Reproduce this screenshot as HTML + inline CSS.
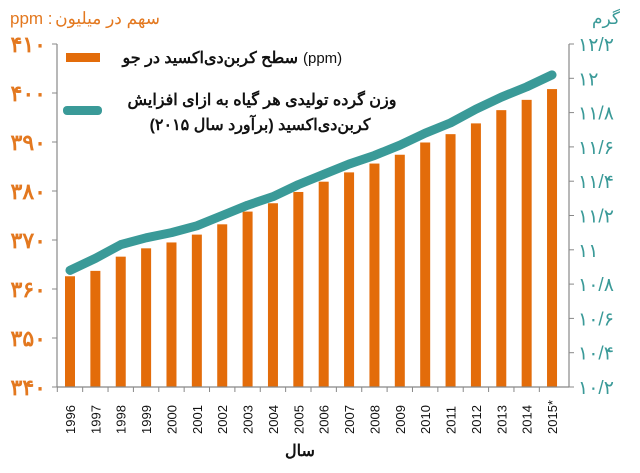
<!DOCTYPE html>
<html><head><meta charset="utf-8"><style>
body{margin:0;background:#fff;}
svg{display:block;font-family:"Liberation Sans","Noto Sans CJK SC",sans-serif;}
</style></head><body>
<svg id="chart" width="640" height="473" viewBox="0 0 640 473">
<g id="bars"></g>
<g id="axes"></g>
<path id="line" fill="none" stroke="#3a9a98" stroke-width="9" stroke-linecap="round" stroke-linejoin="round"/>
<text x="10" y="24" font-size="17" fill="#e3781f">ppm :</text>
<text x="160" y="24" font-size="17" fill="#e3781f" text-anchor="end">سهم در میلیون</text>
<text x="620" y="24" font-size="17" fill="#3a9a98" text-anchor="end">گرم</text>
<rect x="66" y="53" width="34" height="9" fill="#e36c0a"/>
<text x="298" y="63" font-size="16" font-weight="bold" fill="#111" text-anchor="end">سطح کربن‌دی‌اکسید در جو</text>
<text x="303" y="63" font-size="15" fill="#111">(ppm)</text>
<rect x="63" y="106" width="39" height="9" rx="4" fill="#3a9a98"/>
<text x="262" y="105" font-size="16" font-weight="bold" fill="#111" text-anchor="middle" direction="rtl">وزن گرده تولیدی هر گیاه به ازای افزایش</text>
<text x="260" y="130" font-size="16" font-weight="bold" fill="#111" text-anchor="middle" direction="rtl">کربن‌دی‌اکسید (برآورد سال ۲۰۱۵)</text>
<text x="300" y="456" font-size="16" font-weight="bold" fill="#111" text-anchor="middle">سال</text>
</svg>
<script>
const years=["1996","1997","1998","1999","2000","2001","2002","2003","2004","2005","2006","2007","2008","2009","2010","2011","2012","2013","2014","2015*"];
const co2=[362.6,363.7,366.6,368.3,369.5,371.1,373.2,375.8,377.5,379.8,381.9,383.8,385.6,387.4,389.9,391.6,393.8,396.5,398.6,400.8];
const pollen=[10.88,10.95,11.03,11.07,11.10,11.14,11.20,11.26,11.31,11.38,11.44,11.50,11.55,11.61,11.68,11.74,11.82,11.89,11.95,12.02];
const leftTicks=["۳۴۰","۳۵۰","۳۶۰","۳۷۰","۳۸۰","۳۹۰","۴۰۰","۴۱۰"];
const rightTicks=["۱۰/۲","۱۰/۴","۱۰/۶","۱۰/۸","۱۱","۱۱/۲","۱۱/۴","۱۱/۶","۱۱/۸","۱۲","۱۲/۲"];
const NS="http://www.w3.org/2000/svg";
const yL=v=>387-(v-340)*(343/70);
const yR=v=>387-(v-10.2)*(343/2);
const xB=i=>70+i*25.37;
function mk(tag,a,parent){const e=document.createElementNS(NS,tag);for(const k in a)e.setAttribute(k,a[k]);parent.appendChild(e);return e;}
const bars=document.getElementById('bars'),axes=document.getElementById('axes');
co2.forEach((v,i)=>{
 const r=mk('rect',{x:xB(i)-5,y:yL(v),width:10,height:387-yL(v),fill:'#e36c0a'},bars);
 
 
 const t=mk('text',{transform:`translate(${xB(i)+5},${434}) rotate(-90)`,'font-size':13,fill:'#111'},axes);
 t.textContent=years[i];
 
 
 mk('line',{x1:xB(i)-12.7,x2:xB(i)-12.7,y1:387,y2:392,stroke:'#888'},axes);
});
mk('line',{x1:57,x2:569,y1:387,y2:387,stroke:'#888','stroke-width':1.2},axes);
mk('line',{x1:57,x2:57,y1:44,y2:387,stroke:'#888','stroke-width':1.2},axes);
mk('line',{x1:569,x2:569,y1:44,y2:387,stroke:'#888','stroke-width':1.2},axes);
mk('line',{x1:52,x2:57,y1:44,y2:44,stroke:'#888'},axes);
mk('line',{x1:569,x2:574,y1:44,y2:44,stroke:'#888'},axes);
leftTicks.forEach((s,i)=>{
 const y=yL(340+i*10);
 mk('line',{x1:52,x2:57,y1:y,y2:y,stroke:'#888'},axes);
 const t=mk('text',{x:46,y:y+8,'font-size':22,'font-weight':'bold',fill:'#e3781f','text-anchor':'end'},axes);
 t.textContent=s;
 
 
});
rightTicks.forEach((s,i)=>{
 const y=yR(10.2+i*0.2);
 mk('line',{x1:569,x2:574,y1:y,y2:y,stroke:'#888'},axes);
 const t=mk('text',{x:578,y:y+7,'font-size':19,fill:'#3a9a98','text-anchor':'start'},axes);
 t.textContent=s;
 
 
});
document.getElementById('line').setAttribute('d',pollen.map((v,i)=>(i?'L':'M')+xB(i)+','+yR(v)).join(' '));
</script>
</body></html>
